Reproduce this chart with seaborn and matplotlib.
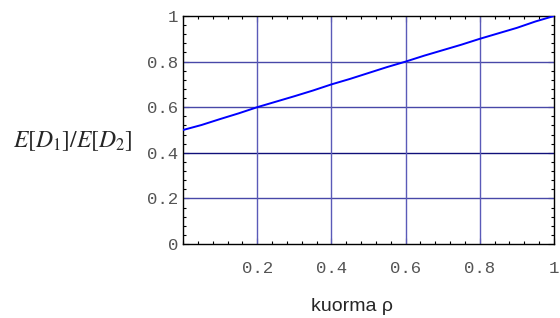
import matplotlib
matplotlib.use('Agg')
import matplotlib.pyplot as plt
from matplotlib.ticker import MultipleLocator, FixedLocator
import seaborn as sns
import pandas as pd

# load rho vs ratio E[D1]/E[D2]
rho = [0.0, 0.05, 0.1, 0.15, 0.2, 0.25, 0.3, 0.35, 0.4, 0.45, 0.5,
       0.55, 0.6, 0.65, 0.7, 0.75, 0.8, 0.85, 0.9, 0.95, 1.0]
ratio = [0.500, 0.522, 0.548, 0.573, 0.600, 0.624, 0.648, 0.673, 0.700, 0.724, 0.750,
         0.776, 0.800, 0.826, 0.850, 0.874, 0.900, 0.924, 0.948, 0.976, 1.000]
xticks = [0.2, 0.4, 0.6, 0.8, 1.0]
xticklabels = ['0.2', '0.4', '0.6', '0.8', '1']
yticks = [0.0, 0.2, 0.4, 0.6, 0.8, 1.0]
yticklabels = ['0', '0.2', '0.4', '0.6', '0.8', '1']

sns.set_style('white')
plt.rcParams['mathtext.fontset'] = 'stix'

df = pd.DataFrame({'rho': rho, 'ratio': ratio})

fig = plt.figure(figsize=(5.6, 3.18), dpi=100)
ax = fig.add_axes([183 / 560, 1 - 244 / 318, 371 / 560, 228 / 318])

# grid lines, Mathematica style
for y in [0.2, 0.6, 0.8]:
    ax.axhline(y, color='#4848a8', lw=1.0, zorder=1)
ax.axhline(0.4, color='#10107a', lw=1.0, zorder=1)
for x in [0.2, 0.4, 0.6, 0.8]:
    ax.axvline(x, color='#5a5ab8', lw=1.0, zorder=1)

sns.lineplot(data=df, x='rho', y='ratio', color='#0000ff', lw=1.4, ax=ax, zorder=3)

ax.set_xlim(0, 1)
ax.set_ylim(0, 1)
ax.xaxis.set_major_locator(FixedLocator(xticks))
ax.set_xticklabels(xticklabels)
ax.yaxis.set_major_locator(FixedLocator(yticks))
ax.set_yticklabels(yticklabels)
ax.xaxis.set_minor_locator(MultipleLocator(0.04))
ax.yaxis.set_minor_locator(MultipleLocator(0.04))
ax.tick_params(which='both', direction='in', top=True, right=True, bottom=True, left=True,
               color='black', width=0.8)
ax.tick_params(which='major', length=4)
ax.tick_params(which='minor', length=2.5)
ax.tick_params(axis='x', which='major', pad=12)
ax.tick_params(axis='y', which='major', pad=3.5)
for lab in ax.get_xticklabels() + ax.get_yticklabels():
    lab.set_family('Liberation Mono')
    lab.set_fontsize(12.5)
    lab.set_color('#555555')

for s in ax.spines.values():
    s.set_visible(True)
    s.set_color('black')
    s.set_linewidth(1.0)

ax.set_xlabel('kuorma ρ', fontsize=14, family='Liberation Sans', va='center')
ax.xaxis.set_label_coords(0.455, -0.276)
ax.set_ylabel(r'$E[D_1]/E[D_2]$', fontsize=17, rotation=0, va='center', ha='center')
ax.yaxis.set_label_coords(-0.296, 0.45)

fig.savefig('out.png', dpi=100)
